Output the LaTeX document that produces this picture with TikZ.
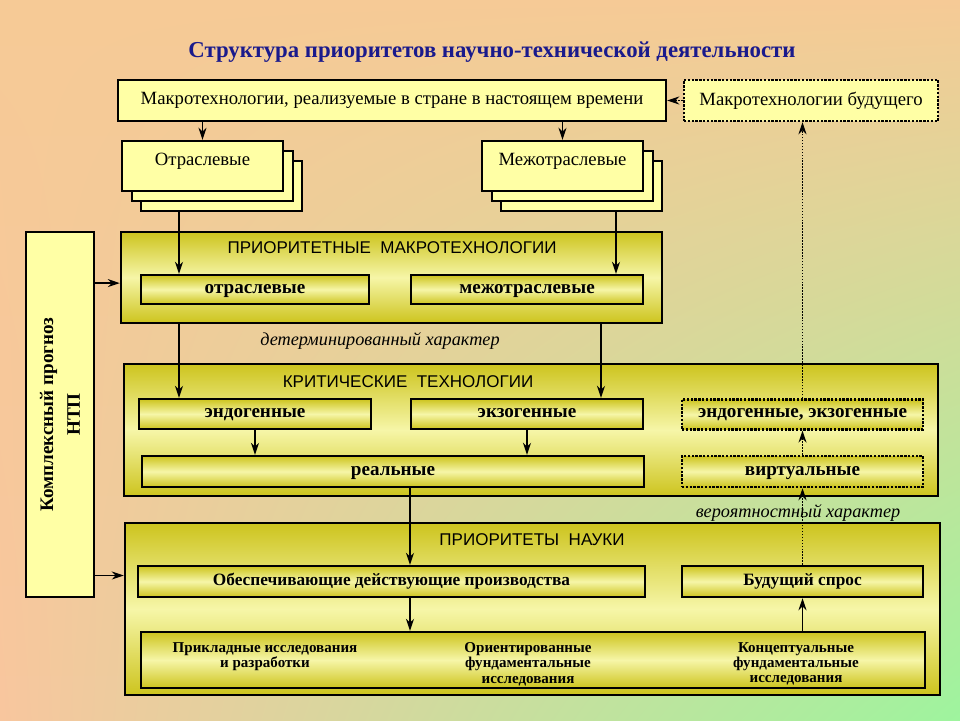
\documentclass[tikz,border=0pt]{standalone}
\usepackage{fontspec}
\setmainfont{Liberation Serif}
\setsansfont{Liberation Sans}
\usetikzlibrary{arrows.meta,positioning,shadows,shadings}
\definecolor{bgpeach}{RGB}{248,198,158}
\definecolor{bgtop}{RGB}{246,202,150}
\definecolor{bggreen}{RGB}{158,244,158}
\definecolor{lightyel}{RGB}{255,255,165}
\definecolor{olv}{RGB}{205,196,30}
\definecolor{olvlt}{RGB}{246,246,168}
\definecolor{titleblue}{RGB}{26,26,140}
\tikzset{
  ybox/.style={rectangle, draw=black, line width=1.7pt, fill=lightyel, align=center,
               inner sep=0pt, font=\fontsize{13.3}{15}\selectfont},
  ydot/.style={ybox, densely dotted},
  stackbox/.style={ybox, minimum width=4.025cm, minimum height=1.25cm,
               text height=0.5cm, text depth=0.55cm,
               copy shadow={shadow xshift=0.475cm, shadow yshift=-0.5cm, draw=black, line width=1.7pt, fill=lightyel},
               copy shadow={shadow xshift=0.25cm, shadow yshift=-0.25cm, draw=black, line width=1.7pt, fill=lightyel}},
  big/.style={rectangle, draw=black, line width=1.7pt, top color=olv, bottom color=olv, middle color=olvlt},
  inb/.style={rectangle, draw=black, line width=1.7pt, top color=olv, bottom color=olv, middle color=olvlt,
              minimum height=0.75cm, inner sep=0pt, text height=0.7em, text depth=0.2em,
              font=\fontsize{13.6}{15}\selectfont\bfseries},
  indot/.style={inb, densely dotted},
  head/.style={font=\fontsize{12.1}{14}\selectfont\sffamily},
  col/.style={anchor=north, align=center, font=\fontsize{10.7}{10.7}\selectfont\bfseries},
  lbl/.style={font=\fontsize{13}{15}\selectfont\itshape},
  ar/.style={-{Stealth[length=3mm,width=2mm]}, line width=1.1pt},
  ard/.style={ar, densely dotted},
}

\begin{document}
\begin{tikzpicture}

\useasboundingbox (0,0) rectangle (24,-18);
\shade[upper left=bgtop, upper right=bgtop, lower left=bgpeach, lower right=bggreen]
  (0,0) rectangle (24,-18);

%% title
\node[font=\fontsize{16.2}{18}\selectfont\bfseries, text=titleblue] (title) at (12.3,-1.3)
  {Структура приоритетов научно-технической деятельности};

%% upper row
\node[ybox, minimum width=13.7cm, minimum height=1.025cm] (now) at (9.8,-2.5125)
  {Макротехнологии, реализуемые в стране в настоящем времени};
\node[ydot, minimum width=6.35cm, minimum height=1.025cm] (fut) at (20.275,-2.5125)
  {Макротехнологии будущего};

\node[stackbox] (otr) at (5.0625,-4.15) {Отраслевые};
\node[stackbox] (mezh) at (14.0625,-4.15) {Межотраслевые};

%% forecast column
\node[ybox, rotate=90, minimum width=9.125cm, minimum height=1.7cm,
      font=\fontsize{13.6}{19}\selectfont\bfseries] (fc) at (1.5,-10.3625)
  {Комплексный прогноз\\НТП};

%% priority macrotechnologies
\node[big, minimum width=13.525cm, minimum height=2.275cm] (pmt) at (9.7875,-6.9375) {};
\node[head] (pmth) at (9.8,-6.2) {ПРИОРИТЕТНЫЕ\ \ МАКРОТЕХНОЛОГИИ};
\node[inb, minimum width=5.7cm, minimum height=0.725cm] (pmt1) at (6.375,-7.2375) {отраслевые};
\node[inb, minimum width=5.8cm, minimum height=0.725cm] (pmt2) at (13.175,-7.2375) {межотраслевые};

\node[lbl] (det) at (9.5,-8.525) {детерминированный характер};

%% critical technologies
\node[big, minimum width=20.35cm, minimum height=3.3cm] (crit) at (13.275,-10.75) {};
\node[head] (crith) at (10.2,-9.55) {КРИТИЧЕСКИЕ\ \ ТЕХНОЛОГИИ};
\node[inb, minimum width=5.8cm] (endo) at (6.375,-10.35) {эндогенные};
\node[inb, minimum width=5.8cm] (exo) at (13.175,-10.35) {экзогенные};
\node[indot, minimum width=6.025cm] (both) at (20.0625,-10.36) {эндогенные, экзогенные};
\node[inb, minimum width=12.55cm, minimum height=0.775cm] (real) at (9.825,-11.7875) {реальные};
\node[indot, minimum width=6.025cm, minimum height=0.775cm] (virt) at (20.0625,-11.7875) {виртуальные};

\node[lbl] (prob) at (19.95,-12.825) {вероятностный характер};

%% science priorities
\node[big, minimum width=20.375cm, minimum height=4.3cm] (sci) at (13.3125,-15.225) {};
\node[head] (scih) at (13.3,-13.5) {ПРИОРИТЕТЫ\ \ НАУКИ};
\node[inb, minimum width=12.675cm, minimum height=0.775cm, font=\fontsize{12.3}{14}\selectfont\bfseries]
  (prod) at (9.7875,-14.5375) {Обеспечивающие действующие производства};
\node[inb, minimum width=6.025cm, minimum height=0.775cm, font=\fontsize{12.3}{14}\selectfont\bfseries]
  (dem) at (20.0625,-14.5375) {Будущий спрос};
\node[inb, minimum width=19.6cm, minimum height=1.4cm] (res) at (13.325,-16.5) {};
\node[col] (res1) at (6.625,-15.95) {Прикладные исследования\\и разработки};
\node[col] (res2) at (13.2,-15.95) {Ориентированные\\фундаментальные\\исследования};
\node[col] (res3) at (19.9,-15.95) {Концептуальные\\фундаментальные\\исследования};

%% x positions of the long vertical lines
\coordinate (xo) at (4.475,0);
\coordinate (xm) at (15.4,0);
\coordinate (xe) at (15.025,0);
\coordinate (xr) at (10.25,0);

%% connectors
\draw[ard] (fut) -- (now);
\draw[ar] (now.south -| otr) -- (otr.north);
\draw[ar] (now.south -| mezh) -- (mezh.north);
\draw[ar] ([yshift=-0.5cm]otr.south -| xo) -- (pmt1.north -| xo);
\draw[ar] ([yshift=-0.5cm]mezh.south -| xm) -- (pmt2.north -| xm);
\draw[ar] (pmt.south -| xo) -- (endo.north -| xo);
\draw[ar] (pmt.south -| xe) -- (exo.north -| xe);
\draw[ar] (endo) -- (real.north -| endo);
\draw[ar] (exo) -- (real.north -| exo);
\draw[ard] (virt) -- (both);
\draw[ard] (both) -- (both |- fut.south);
\draw[ar] (real.south -| xr) -- (prod.north -| xr);
\draw[ar] (prod.south -| xr) -- (res.north -| xr);
\draw[ar] (res.north -| dem) -- (dem);
\draw[ard] (dem) -- (virt);
\draw[ar] ([yshift=-0.14cm]fc.south |- pmt.west) -- ([yshift=-0.14cm]pmt.west);
\draw[ar] ([yshift=0.15cm]fc.south |- prod.west) -- ([yshift=0.15cm]sci.west |- prod.west);

\end{tikzpicture}
\end{document}
